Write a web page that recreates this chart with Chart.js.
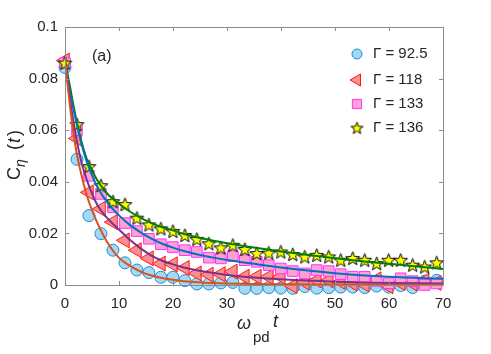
<!DOCTYPE html>
<html>
<head>
<meta charset="utf-8">
<script src="https://cdn.jsdelivr.net/npm/chart.js@4/dist/chart.umd.min.js"></script>
<style>
  html, body { margin: 0; padding: 0; background: #fff; }
  #c { width: 491px; height: 354px; display: block; }
</style>
</head>
<body>
<canvas id="c" width="491" height="354"></canvas>
<script>
// sample times (omega_pd t)
const T = [0, 2.22, 4.44, 6.66, 8.88, 11.1, 13.32, 15.54, 17.76, 19.98, 22.2, 24.42, 26.64, 28.86, 31.08, 33.3,
           35.52, 37.74, 39.96, 42.18, 44.4, 46.62, 48.84, 51.06, 53.28, 55.5, 57.72, 59.94, 62.16, 64.38, 66.6, 68.82];

// measured C_eta(t)
const g925 = [0.0843, 0.0487, 0.0269, 0.0199, 0.0135, 0.0086, 0.0058, 0.0048, 0.0030, 0.0030, 0.0017, 0.0004, 0.0004, 0.0008, 0.0010, -0.0013,
              -0.0013, -0.0010, -0.0012, -0.0013, -0.0006, -0.0012, -0.0010, -0.0008, -0.0008, -0.0010, -0.0004, -0.0008, -0.0002, -0.0010, 0.0015, 0.0018];
const g118 = [0.0870, 0.0568, 0.0359, 0.0295, 0.0244, 0.0173, 0.0135, 0.0103, 0.0083, 0.0080, 0.0066, 0.0045, 0.0040, 0.0042, 0.0052, 0.0032,
              0.0032, 0.0032, 0.0032, -0.0004, 0.0010, 0.0018, 0.0018, 0.0012, 0.0006, 0.0002, 0.0022, -0.0005, 0.0008, 0.0006, 0.0016, 0.0008];
const g133 = [0.0860, 0.0600, 0.0423, 0.0353, 0.0301, 0.0240, 0.0209, 0.0179, 0.0158, 0.0147, 0.0135, 0.0128, 0.0106, 0.0103, 0.0112, 0.0096,
              0.0090, 0.0077, 0.0064, 0.0054, 0.0045, 0.0058, 0.0054, 0.0042, 0.0032, 0.0032, 0.0016, 0.0007, 0.0026, 0.0015, 0.0000, 0.0006];
const g136 = [0.0860, 0.0622, 0.0459, 0.0385, 0.0323, 0.0312, 0.0259, 0.0233, 0.0218, 0.0208, 0.0192, 0.0177, 0.0160, 0.0144, 0.0154, 0.0138,
              0.0122, 0.0124, 0.0128, 0.0118, 0.0109, 0.0115, 0.0109, 0.0096, 0.0103, 0.0096, 0.0083, 0.0096, 0.0096, 0.0077, 0.0070, 0.0086];

// fitted curves
const FIT_T = [0, 1, 2, 3, 4, 5, 6, 8, 10, 12, 14, 16, 18, 20, 22, 26, 30, 35, 40, 50, 60, 70];
const fit925 = [0.087, 0.068, 0.053, 0.043, 0.035, 0.029, 0.024, 0.016, 0.0105, 0.0075, 0.0052, 0.0037, 0.0027, 0.0020, 0.0015, 0.0009, 0.0006, 0.0004, 0.0003, 0.0002, 0.0001, 0.0001];
const fit118 = [0.087, 0.071, 0.058, 0.048, 0.041, 0.0355, 0.031, 0.0255, 0.0215, 0.0175, 0.0142, 0.0114, 0.0094, 0.0080, 0.0068, 0.0051, 0.0039, 0.0029, 0.0022, 0.0013, 0.0008, 0.0006];
const fit133 = [0.086, 0.074, 0.064, 0.055, 0.048, 0.0425, 0.038, 0.0315, 0.0270, 0.0233, 0.0204, 0.0180, 0.0160, 0.0145, 0.0132, 0.0112, 0.0097, 0.0082, 0.0068, 0.0046, 0.0032, 0.0024];
const fit136 = [0.087, 0.076, 0.065, 0.056, 0.049, 0.0445, 0.0405, 0.0350, 0.0315, 0.0285, 0.0260, 0.0240, 0.0224, 0.0212, 0.0198, 0.0178, 0.0162, 0.0145, 0.0130, 0.0104, 0.0082, 0.0062];

const LEGEND = ['\u0393 = 92.5', '\u0393 = 118', '\u0393 = 133', '\u0393 = 136'];
const X_TICKS = [0, 10, 20, 30, 40, 50, 60, 70];
const X_TICK_LABELS = ['0', '10', '20', '30', '40', '50', '60', '70'];
const Y_TICKS = [0, 0.02, 0.04, 0.06, 0.08, 0.1];
const Y_TICK_LABELS = ['0', '0.02', '0.04', '0.06', '0.08', '0.1'];

const FONT = "'Liberation Sans', Arial, sans-serif";
const TXT = '#262626';
const AXIS = '#8c8c8c';

// five point star marker
function makeStar(r, lw) {
    const s = Math.ceil(2 * r + 4);
    const cv = document.createElement('canvas');
    cv.width = s; cv.height = s;
    const c = cv.getContext('2d');
    c.beginPath();
    for (let k = 0; k < 10; k++) {
        const rr = k % 2 === 0 ? r : r * 0.42;
        const a = -Math.PI / 2 + k * Math.PI / 5;
        const px = s / 2 + rr * Math.cos(a), py = s / 2 + 0.5 + rr * Math.sin(a);
        if (k === 0) c.moveTo(px, py); else c.lineTo(px, py);
    }
    c.closePath();
    c.fillStyle = '#ffff00';
    c.fill();
    c.lineWidth = lw;
    c.strokeStyle = '#000';
    c.stroke();
    return cv;
}
const starBig = makeStar(7.2, 1);
const starSmall = makeStar(6.3, 1);

const pts = (xs, ys) => xs.map((x, i) => ({ x: x, y: ys[i] }));

const markerSets = [
    { label: LEGEND[0], data: g925, pointStyle: 'circle', pointRadius: 6, rotation: 0, bg: '#a3d9f5', bd: '#1f8ad3', order: 4 },
    { label: LEGEND[1], data: g118, pointStyle: 'triangle', pointRadius: 8.6, rotation: -90, bg: '#f99090', bd: '#ff1a1a', order: 3 },
    { label: LEGEND[2], data: g133, pointStyle: 'rect', pointRadius: 7.5, rotation: 0, bg: '#ff9fd2', bd: '#ff33ff', order: 2 },
    { label: LEGEND[3], data: g136, pointStyle: starBig, pointRadius: 7, rotation: 0, bg: '#ffff00', bd: '#000000', order: 1 }
];
const fitSets = [
    { data: fit925, color: '#d95319' },
    { data: fit118, color: '#7e2f8e' },
    { data: fit133, color: '#0072bd' },
    { data: fit136, color: '#008000' }
];

const datasets = [];
markerSets.forEach(m => {
    datasets.push({
        type: 'scatter',
        label: m.label,
        data: pts(T, m.data),
        pointStyle: m.pointStyle,
        pointRadius: m.pointRadius,
        pointRotation: m.rotation,
        pointBackgroundColor: m.bg,
        pointBorderColor: m.bd,
        pointBorderWidth: 1,
        showLine: false,
        clip: false,
        order: m.order
    });
});
fitSets.forEach(f => {
    datasets.push({
        type: 'line',
        data: pts(FIT_T, f.data),
        borderColor: f.color,
        borderWidth: 2,
        pointRadius: 0,
        fill: false,
        cubicInterpolationMode: 'monotone',
        order: 0
    });
});

const decorations = {
    id: 'decorations',
    afterDraw(chart) {
        const ctx = chart.ctx;
        const a = chart.chartArea;
        const xs = chart.scales.x, ys = chart.scales.y;
        ctx.save();
        // box and inward ticks
        ctx.strokeStyle = AXIS;
        ctx.lineWidth = 1;
        ctx.strokeRect(a.left + 0.5, a.top + 0.5, a.right - a.left, a.bottom - a.top);
        ctx.beginPath();
        X_TICKS.forEach(v => {
            const px = Math.round(xs.getPixelForValue(v)) + 0.5;
            ctx.moveTo(px, a.bottom); ctx.lineTo(px, a.bottom - 4);
            ctx.moveTo(px, a.top); ctx.lineTo(px, a.top + 4);
        });
        Y_TICKS.forEach(v => {
            const py = Math.round(ys.getPixelForValue(v)) + 0.5;
            ctx.moveTo(a.left, py); ctx.lineTo(a.left + 4, py);
            ctx.moveTo(a.right, py); ctx.lineTo(a.right - 4, py);
        });
        ctx.stroke();

        ctx.fillStyle = TXT;
        ctx.textBaseline = 'middle';
        // panel tag
        ctx.font = '16px ' + FONT;
        ctx.textAlign = 'left';
        ctx.fillText('(a)', 92, 57);

        // legend
        const rows = [54, 80, 104, 128];
        const leg = [
            { pointStyle: 'circle', radius: 5, rotation: 0 },
            { pointStyle: 'triangle', radius: 7, rotation: -90 },
            { pointStyle: 'rect', radius: 6.5, rotation: 0 },
            { pointStyle: starSmall, radius: 6, rotation: 0 }
        ];
        leg.forEach((l, i) => {
            ctx.fillStyle = markerSets[i].bg;
            ctx.strokeStyle = markerSets[i].bd;
            ctx.lineWidth = 1;
            Chart.helpers.drawPoint(ctx, { pointStyle: l.pointStyle, radius: l.radius, rotation: l.rotation, borderWidth: 1 }, 357, rows[i]);
            ctx.fillStyle = TXT;
            ctx.font = '15px ' + FONT;
            ctx.fillText(LEGEND[i], 373, rows[i]);
        });

        // x axis title: omega_pd t
        ctx.textBaseline = 'alphabetic';
        ctx.font = 'italic 18px ' + FONT;
        ctx.fillText('\u03c9', 237, 329);
        ctx.font = '15px ' + FONT;
        ctx.fillText('pd', 253, 342);
        ctx.font = 'italic 18px ' + FONT;
        ctx.fillText('t', 273, 327);

        // y axis title: C_eta (t)
        ctx.translate(20, 180);
        ctx.rotate(-Math.PI / 2);
        ctx.font = '18px ' + FONT;
        ctx.fillText('C', 0, 0);
        ctx.font = 'italic 14px ' + FONT;
        ctx.fillText('\u03b7', 13, 5);
        ctx.font = '18px ' + FONT;
        ctx.fillText('(', 30, 0);
        ctx.font = 'italic 18px ' + FONT;
        ctx.fillText('t', 37, 0);
        ctx.font = '18px ' + FONT;
        ctx.fillText(')', 44, 0);
        ctx.restore();
    }
};

new Chart(document.getElementById('c'), {
    data: { datasets: datasets },
    options: {
        responsive: false,
        animation: false,
        events: [],
        layout: { padding: { left: 0, right: 48, top: 27, bottom: 0 } },
        plugins: { legend: { display: false }, tooltip: { enabled: false } },
        scales: {
            x: {
                type: 'linear',
                min: 0,
                max: 70,
                grid: { display: false, drawTicks: false },
                border: { display: false },
                afterBuildTicks: s => { s.ticks = X_TICKS.map(v => ({ value: v })); },
                afterFit: s => { s.height = 69; },
                ticks: {
                    padding: 10,
                    color: TXT,
                    font: { family: FONT, size: 15 },
                    maxRotation: 0,
                    callback: (v, i) => X_TICK_LABELS[i]
                }
            },
            y: {
                type: 'linear',
                min: 0,
                max: 0.1,
                grid: { display: false, drawTicks: false },
                border: { display: false },
                afterBuildTicks: s => { s.ticks = Y_TICKS.map(v => ({ value: v })); },
                afterFit: s => { s.width = 65; },
                ticks: {
                    padding: 7,
                    color: TXT,
                    font: { family: FONT, size: 15 },
                    callback: (v, i) => Y_TICK_LABELS[i]
                }
            }
        }
    },
    plugins: [decorations]
});
</script>
</body>
</html>
